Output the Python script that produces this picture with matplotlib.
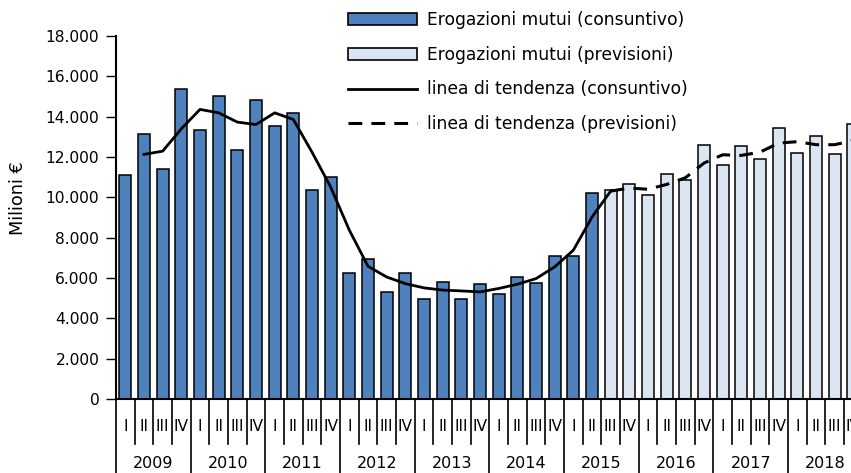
import matplotlib
matplotlib.use("Agg")
import matplotlib.pyplot as plt
from matplotlib.transforms import blended_transform_factory
from matplotlib.lines import Line2D
from matplotlib.patches import Patch
import numpy as np

### DATA ###
years = ['2009', '2010', '2011', '2012', '2013', '2014', '2015', '2016', '2017', '2018']
quarters = ['I', 'II', 'III', 'IV']

# erogazioni mutui, milioni di euro (2009 I - 2015 II)
erog_consuntivo = [11100, 13150, 11420, 15380, 13350, 15030, 12330, 14850,
                   13530, 14200, 10350, 11000, 6250, 6930, 5330, 6250,
                   4950, 5810, 4950, 5680, 5230, 6070, 5760, 7110,
                   7080, 10210]
# previsioni (2015 III - 2018 IV)
erog_previsioni = [10380, 10680, 10100, 11140, 10840, 12610, 11620, 12560,
                   11920, 13450, 12190, 13020, 12160, 13650]

# linea di tendenza (consuntivo): 2009 II - 2015 III
trend_consuntivo = [12130, 12290, 13400, 14360, 14190, 13730, 13610, 14190,
                    13860, 12240, 10510, 8370, 6580, 6050, 5720, 5510,
                    5400, 5360, 5310, 5480, 5690, 5970, 6550, 7380,
                    9020, 10310]
# linea di tendenza (previsioni): 2015 III - 2018 IV
trend_previsioni = [10310, 10460, 10400, 10640, 10970, 11700, 12110, 12080,
                    12240, 12690, 12760, 12610, 12610, 12820]

### FIGURE ###
W, H = 851, 473
fig = plt.figure(figsize=(W / 100, H / 100), dpi=100)
ax = fig.add_axes([116 / W, 1 - 399 / H, 746.7 / W, 363 / H])

n_cons = len(erog_consuntivo)
x_cons = np.arange(n_cons)
x_prev = np.arange(n_cons, n_cons + len(erog_previsioni))

bw = 0.64
ax.bar(x_cons, erog_consuntivo, width=bw, color='#4F81BD', edgecolor='black', linewidth=1.1, zorder=2)
ax.bar(x_prev, erog_previsioni, width=bw, color='#DCE6F2', edgecolor='black', linewidth=1.1, zorder=2)

x_tc = np.arange(1, 1 + len(trend_consuntivo))
x_tp = np.arange(n_cons, n_cons + len(trend_previsioni))
ax.plot(x_tc, trend_consuntivo, color='black', linewidth=2.0, zorder=3)
ax.plot(x_tp, trend_previsioni, color='black', linewidth=2.2, dashes=(4.5, 3), zorder=3)

n_q = len(years) * 4
ax.set_xlim(-0.5, n_q - 0.5)
ax.set_ylim(0, 18000)
ax.set_yticks(range(0, 18001, 2000))
ax.set_yticklabels(['{:,}'.format(v).replace(',', '.') for v in range(0, 18001, 2000)], fontsize=11.2)
ax.tick_params(axis='y', direction='out', length=7, width=1.0, pad=5)
ax.set_xticks([])
for s in ['top', 'right']:
    ax.spines[s].set_visible(False)
ax.spines['left'].set_linewidth(1.5)
ax.spines['bottom'].set_linewidth(1.5)
ax.spines['left'].set_zorder(4)
ax.spines['bottom'].set_zorder(4)

# multi-level category axis
tr = blended_transform_factory(ax.transData, fig.transFigure)
def fy(py):
    return 1 - py / H

for i in range(n_q + 1):
    xb = i - 0.5
    if i % 4 == 0:
        y_end = H
    else:
        y_end = 444
    ax.add_line(Line2D([xb, xb], [fy(399), fy(y_end)], transform=tr, color='black',
                       linewidth=1.2, clip_on=False))
for i in range(n_q):
    ax.text(i, fy(426), quarters[i % 4], transform=tr, ha='center', va='center', fontsize=11.2)
for k, yr in enumerate(years):
    ax.text(k * 4 + 1.5, fy(463), yr, transform=tr, ha='center', va='center', fontsize=11.5)

fig.text(18 / W, fy(198), 'Milioni €', rotation=90, ha='center', va='center', fontsize=12.8)

handles = [Patch(facecolor='#4F81BD', edgecolor='black', linewidth=1.2),
           Patch(facecolor='#DCE6F2', edgecolor='black', linewidth=1.2),
           Line2D([], [], color='black', linewidth=2.0),
           Line2D([], [], color='black', linewidth=2.2, dashes=(4.5, 3))]
labels = ['Erogazioni mutui (consuntivo)', 'Erogazioni mutui (previsioni)',
          'linea di tendenza (consuntivo)', 'linea di tendenza (previsioni)']
fig.legend(handles, labels, loc='upper left', bbox_to_anchor=(348 / W, fy(11)),
           frameon=False, fontsize=12.3, handlelength=4.05, handleheight=0.7,
           handletextpad=0.6, labelspacing=0.98, borderpad=0, borderaxespad=0)

fig.savefig('out.png', dpi=100)
